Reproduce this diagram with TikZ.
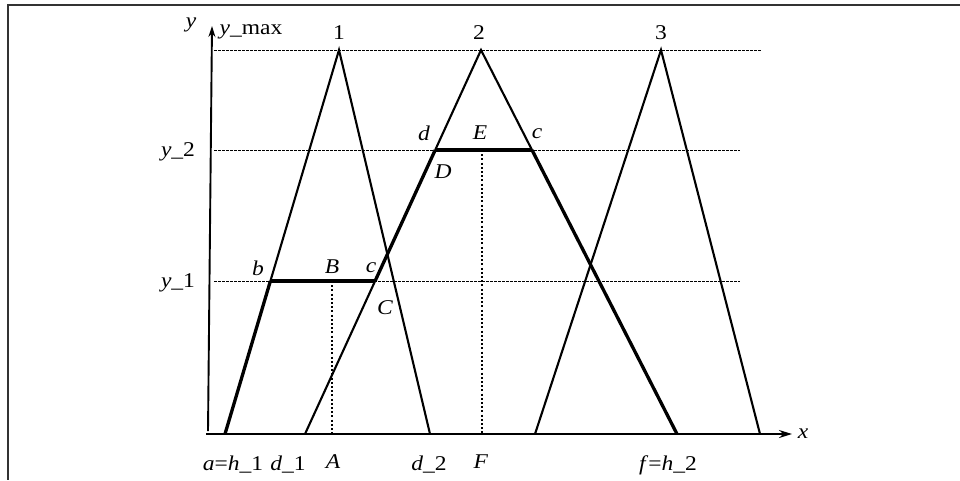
\documentclass[tikz,border=0pt]{standalone}
\usepackage{fontspec}
\setmainfont{Liberation Serif}
\usepackage{graphicx}
\usetikzlibrary{arrows.meta}
\newcommand\lbx[1]{\scalebox{1.12}[1]{#1}}
\begin{document}
\begin{tikzpicture}[x=1pt,y=-1pt,
  lab/.style={inner sep=0pt, font=\fontsize{21}{24}\selectfont},
  edge/.style={line width=2.1pt},
  bold/.style={line width=3.3pt},
  guide/.style={line width=1pt, dash pattern=on 2.5pt off 1.5pt},
  drop/.style={line width=2.2pt, dash pattern=on 2pt off 2.2pt},
  axis/.style={line width=1.9pt}]
\useasboundingbox (0,0) rectangle (960,480);
% frame (top and left only)
\coordinate (fr1) at (960,5);
\coordinate (fr2) at (8,5);
\coordinate (fr3) at (8,480);
\draw[line width=1.8pt, black!80] (fr1) -- (fr2) -- (fr3);
% axes
\coordinate (O) at (206,434);
\coordinate (X) at (792,434);
\coordinate (Yb) at (208,431);
\coordinate (Yt) at (212,26);
\draw[axis, -{Stealth[length=13pt,width=8pt]}] (O) -- (X);
\draw[axis, -{Stealth[length=11pt,width=7pt]}] (Yb) -- (Yt);
% guides
\coordinate (gm0) at (214,50);  \coordinate (gm1) at (762,50);
\coordinate (g20) at (214,150); \coordinate (g21) at (740,150);
\coordinate (g10) at (214,281); \coordinate (g11) at (740,281);
\draw[guide] (gm0) -- (gm1);
\draw[guide] (g20) -- (g21);
\draw[guide] (g10) -- (g11);
% triangle points
\coordinate (T1a) at (225,434); \coordinate (T1p) at (339,50); \coordinate (T1b) at (430,434);
\coordinate (T2a) at (305,434); \coordinate (T2p) at (481,50); \coordinate (T2b) at (677,434);
\coordinate (T3a) at (535,434); \coordinate (T3p) at (661,50); \coordinate (T3b) at (760,434);
\coordinate (pb) at (270.4,281); \coordinate (pc1) at (375.1,281);
\coordinate (pd) at (435.2,150); \coordinate (pc2) at (532,150);
\coordinate (pB) at (332,281); \coordinate (pA) at (332,434);
\coordinate (pE) at (482,150); \coordinate (pF) at (482,434);
% triangles
\draw[bold] (T1a) -- (pb);
\draw[edge] (pb) -- (T1p) -- (T1b);
\draw[edge] (T2a) -- (pc1);
\draw[bold] (pc1) -- (pd);
\draw[edge] (pd) -- (T2p) -- (pc2);
\draw[bold] (pc2) -- (T2b);
\draw[edge] (T3a) -- (T3p) -- (T3b);
\draw[bold] (pb) -- (pc1);
\draw[bold] (pd) -- (pc2);
\draw[drop] (pB) -- (pA);
\draw[drop] (pE) -- (pF);
% labels
\node[lab] (ly) at (191,25) {\lbx{\textit{y}}};
\node[lab] (lymax) at (251,32) {\lbx{\textit{y}\_max}};
\node[lab] (l1) at (339,33) {\lbx{1}};
\node[lab] (l2) at (479,33) {\lbx{2}};
\node[lab] (l3) at (661,33) {\lbx{3}};
\node[lab] (ly2) at (178,152) {\lbx{\textit{y}\_2}};
\node[lab] (ly1) at (178,283) {\lbx{\textit{y}\_1}};
\node[lab] (lb) at (258,268) {\lbx{\textit{b}}};
\node[lab] (lB) at (332,267) {\lbx{\textit{B}}};
\node[lab] (lc1) at (371,268) {\lbx{\textit{c}}};
\node[lab] (lC) at (385,308) {\lbx{\textit{C}}};
\node[lab] (ld) at (424,133) {\lbx{\textit{d}}};
\node[lab] (lE) at (480,133) {\lbx{\textit{E}}};
\node[lab] (lc2) at (537,134) {\lbx{\textit{c}}};
\node[lab] (lD) at (443,172) {\lbx{\textit{D}}};
\node[lab] (lah) at (233,465) {\lbx{\textit{a}=\textit{h}\_1}};
\node[lab] (ld1) at (288,465) {\lbx{\textit{d}\_1}};
\node[lab] (lA) at (333,462) {\lbx{\textit{A}}};
\node[lab] (ld2) at (429,465) {\lbx{\textit{d}\_2}};
\node[lab] (lF) at (481,462) {\lbx{\textit{F}}};
\node[lab] (lfh) at (668,465) {\lbx{\textit{f}=\textit{h}\_2}};
\node[lab] (lx) at (803,434) {\lbx{\textit{x}}};
\end{tikzpicture}
\end{document}
